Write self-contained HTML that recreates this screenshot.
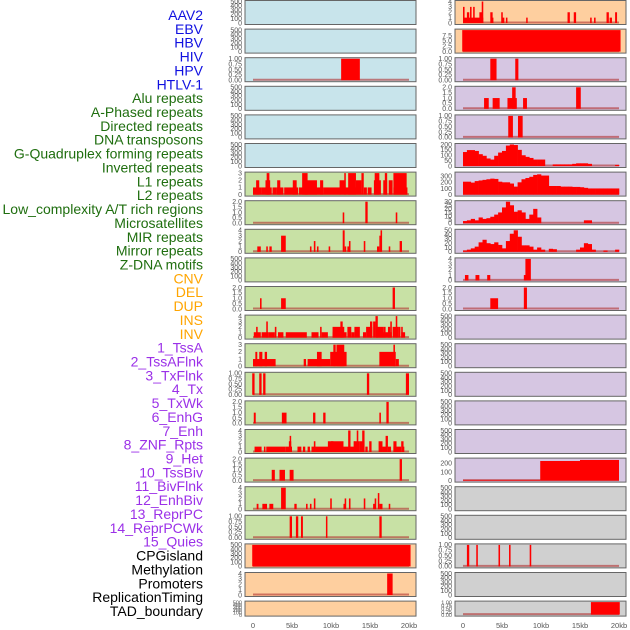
<!DOCTYPE html>
<html><head><meta charset="utf-8"><style>
body{margin:0;background:#fff;width:630px;height:630px;overflow:hidden}
svg{display:block}
</style></head><body>
<svg id="c" width="630" height="630" font-family="Liberation Sans, sans-serif"></svg>
<script>
// ---- labels ----
const labels=["AAV2","EBV","HBV","HIV","HPV","HTLV-1","Alu repeats","A-Phased repeats","Directed repeats","DNA transposons","G-Quadruplex forming repeats","Inverted repeats","L1 repeats","L2 repeats","Low_complexity A/T rich regions","Microsatellites","MIR repeats","Mirror repeats","Z-DNA motifs","CNV","DEL","DUP","INS","INV","1_TssA","2_TssAFlnk","3_TxFlnk","4_Tx","5_TxWk","6_EnhG","7_Enh","8_ZNF_Rpts","9_Het","10_TssBiv","11_BivFlnk","12_EnhBiv","13_ReprPC","14_ReprPCWk","15_Quies","CPGisland","Methylation","Promoters","ReplicationTiming","TAD_boundary"];
const labelGroups=[6,13,5,15,5];
const groupColors=["#1010e0","#1f6e0f","#ffa500","#9b30e8","#000000"];
// ---- x axis ----
const xTicks=[0,5,10,15,20];
const xTickLabels=["0","5kb","10kb","15kb","20kb"];
// ---- tick sets ----
const T500=[0,100,200,300,400,500], T1=[0,0.25,0.5,0.75,1], T2=[0,0.5,1,1.5,2], T3=[0,1,2,3], T4=[0,1,2,3,4];
const T10=[0,2.5,5,7.5], T200=[0,50,100,150,200], T300=[0,100,200,300], T30=[0,5,10,15,20,25,30], T50=[0,10,20,30,40,50], T250=[0,100,200];
// ---- left column bars [startKb,endKb,value] ----
const L_hiv=[[11.3,13.7,1]];
const L_l1=[[0,1.1,1],[0.4,0.8,2],[1.1,2.4,1],[1.6,2.2,2],[1.75,2.1,3],[2.5,3.0,1],[3.0,3.9,1],[3.1,3.5,2],[4.0,5.8,1],[5.1,5.6,2],[5.9,9.0,1],[6.6,8.2,2],[6.3,7.0,3],[8.6,9.0,2],[9.0,11.2,1],[11.1,11.8,2],[11.7,11.9,3],[11.8,13.2,1],[12.2,13.2,3],[13.2,13.9,2],[13.9,14.2,3],[14.2,14.6,1],[14.7,15.2,1],[15.5,16.4,2],[15.6,16.2,3],[16.7,17.2,2],[16.9,17.2,3],[17.4,17.9,2],[18.0,19.8,1],[18.0,19.7,3]];
const L_lowc=[[11.5,11.7,1],[14.4,14.7,2],[18.3,18.5,1]];
const L_mir=[[0.55,1.0,1],[1.7,1.9,1],[2.1,2.4,1],[3.6,4.2,3],[7.3,7.5,1],[7.8,8.0,2],[8.2,8.4,1],[9.7,9.9,1],[11.5,11.75,4],[11.75,11.95,1],[12.1,12.5,1],[12.3,12.5,2],[14.2,14.4,2],[15.9,16.2,1],[16.2,16.4,3],[16.35,16.55,4],[17.4,17.6,1],[18.8,19.1,2]];
const L_del=[[0.9,1.1,1],[3.6,4.2,1],[17.9,18.2,2]];
const L_ins=[[0.1,1.0,1],[0.4,0.6,2],[1.1,2.0,1],[1.7,1.9,3],[2.0,2.8,1],[2.8,3.0,2],[3.2,3.9,1],[4.2,6.9,1],[7.5,8.4,1],[8.6,8.8,2],[8.8,9.6,1],[10.2,12.0,1],[10.2,11.7,2],[11.2,11.5,3],[12.1,12.6,2],[12.6,13.0,1],[13.0,13.7,2],[14.1,14.5,1],[14.5,15.3,2],[15.0,15.3,3],[15.4,15.7,3],[15.7,16.0,4],[15.8,17.8,1],[15.8,16.7,2],[16.7,17.0,2],[17.3,17.6,2],[17.6,17.8,3],[17.9,18.6,2],[18.3,18.5,4],[18.6,18.9,2],[19.0,19.5,1],[19.0,19.2,2]];
const L_tssa=[[0,2.9,1],[0.3,0.55,2],[0.8,1.2,2],[1.5,1.8,2],[6.5,6.8,1],[7.0,9.9,1],[8.2,8.8,2],[9.9,12.0,2],[10.3,10.6,3],[10.7,11.7,3],[16.2,18.3,2],[18.0,18.2,3],[18.3,18.7,1]];
const L_txflnk=[[-0.1,0.2,1],[0.8,1.1,1],[1.3,1.6,1],[14.6,14.9,1],[19.6,20.0,1]];
const L_txwk=[[0.1,0.35,1],[3.7,4.3,1],[7.7,8.0,1],[9.0,9.3,1],[16.2,16.4,1],[17.1,17.4,2]];
const L_enh=[[0.2,1.1,1],[1.4,1.6,1],[1.7,4.2,1],[4.2,5.0,1],[4.6,4.9,2],[4.7,4.8,3],[5.7,6.2,1],[6.4,6.7,1],[7.0,7.3,1],[7.5,8.0,1],[7.8,8.0,2],[8.0,10.0,1],[9.6,10.3,2],[10.0,11.6,2],[11.6,12.4,1],[12.2,12.5,4],[12.4,13.0,1],[12.9,13.1,2],[13.0,13.6,2],[13.3,13.5,4],[13.6,14.3,2],[14.0,14.3,4],[14.4,14.7,1],[14.9,15.2,2],[16.1,16.6,2],[16.6,17.1,1],[17.0,17.3,3],[17.3,17.7,1],[18.0,19.0,1],[18.0,18.4,2],[19.0,19.3,2],[19.2,19.4,1]];
const L_het=[[2.4,2.8,1],[3.4,4.1,1],[4.7,5.2,1],[18.8,19.1,2]];
const L_bivflnk=[[0.47,0.7,1],[1.2,1.8,1],[2.1,2.6,1],[3.6,4.2,4],[5.3,5.6,1],[6.8,7.0,1],[7.3,7.5,1],[7.8,8.0,2],[9.9,10.1,2],[11.6,11.8,1],[11.75,11.95,2],[12.3,12.5,2],[14.2,14.4,2],[15.4,15.7,1],[15.6,15.8,2],[16.0,16.2,3],[16.2,16.6,1],[17.4,17.6,1]];
const L_reprpc=[[4.7,5.0,1],[5.5,5.8,1],[6.15,6.4,1],[9.35,9.5,1],[16.2,16.5,1]];
const L_cpg=[[-0.1,20.2,500]];
const L_prom=[[17.2,17.9,4]];
// ---- right column bars ----
const R_aav2=[[0,2.6,1],[0,0.2,3],[0.5,0.8,2],[0.9,1.1,3],[1.3,1.5,3],[2.1,2.5,2],[2.4,2.6,4],[3.5,3.8,2],[3.7,3.9,1],[4.9,5.1,2],[5.0,5.3,1],[5.5,5.7,1],[8.1,8.25,1],[13.4,13.7,2],[14.2,14.5,2],[16.3,16.5,1],[16.8,17.0,1],[18.4,18.7,2],[18.8,19.1,1],[19.5,19.75,2]];
const R_hbv=[[-0.1,20.2,10]];
const R_hpv=[[3.5,4.3,1],[6.7,7.1,1]];
const R_alu=[[2.7,3.3,1],[3.8,4.7,1],[5.7,6.9,1],[6.3,6.75,2],[7.7,8.2,1],[14.5,15.1,2]];
const R_directed=[[5.8,6.4,1],[7.05,7.65,1]];
const R_cnv=[[0.25,0.7,1],[1.6,2.1,1],[3.1,3.5,1],[7.8,8.1,1],[8.0,8.7,4]];
const R_dup=[[3.5,4.5,1],[7.8,8.2,2]];
const R_tssbiv=[[0,9.9,8],[9.9,15.0,228],[15.0,20.0,240]];
const R_cpg=[[0.5,0.8,1],[1.7,1.9,1],[4.55,4.75,1],[5.9,6.1,1],[8.55,8.75,1]];
const R_tad=[[16.4,20.1,1]];
// ---- right column profiles (0.5kb bins starting at 0) ----
const R_gquad=[130,148,148,140,110,95,70,60,95,125,140,190,200,195,150,100,85,75,60,60,60,0,0,15,15,15,15,15,20,25,25,25,20,0,0,0,0,0,0,10];
const R_l1=[210,210,195,220,230,240,250,260,255,210,200,200,180,130,200,250,270,290,320,330,310,310,140,140,140,130,130,130,125,125,120,110,100,100,100,100,100,100,100,100];
const R_lowc=[3,4,6,4,8,6,7,9,12,15,22,30,25,16,18,15,6,12,20,8,0,0,0,0,0,0,0,0,0,0,0,4,4,0,0,0,0,0,0,0];
const R_mir=[3,5,8,12,22,28,20,18,22,16,8,25,42,50,35,15,15,12,5,10,5,0,7,6,0,0,0,0,0,5,10,20,18,5,0,0,3,0,0,5];

const bgBlue="#c8e4eb",bgGreen="#c8e1a5",bgPeach="#fecf9f",bgLav="#d6c6e2",bgGray="#d0d0d0";
const left=[
 [bgBlue,T500,500,null],[bgBlue,T500,500,null],[bgBlue,T1,1,L_hiv],[bgBlue,T500,500,null],[bgBlue,T500,500,null],[bgBlue,T500,500,null],
 [bgGreen,T3,3,L_l1],[bgGreen,T2,2,L_lowc],[bgGreen,T4,4,L_mir],[bgGreen,T500,500,null],[bgGreen,T2,2,L_del],[bgGreen,T4,4,L_ins],
 [bgGreen,T3,3,L_tssa],[bgGreen,T1,1,L_txflnk],[bgGreen,T2,2,L_txwk],[bgGreen,T4,4,L_enh],[bgGreen,T2,2,L_het],[bgGreen,T4,4,L_bivflnk],
 [bgGreen,T1,1,L_reprpc],[bgPeach,T500,500,L_cpg],[bgPeach,T4,4,L_prom],[bgPeach,T500,500,null]];
const right=[
 [bgPeach,T4,4,R_aav2],[bgPeach,T10,10,R_hbv],[bgLav,T1,1,R_hpv],[bgLav,T2,2,R_alu],[bgLav,T1,1,R_directed],[bgLav,T200,200,R_gquad],
 [bgLav,T300,350,R_l1],[bgLav,T30,30,R_lowc],[bgLav,T50,50,R_mir],[bgLav,T4,4,R_cnv],[bgLav,T2,2,R_dup],[bgLav,T500,500,null],
 [bgLav,T500,500,null],[bgLav,T500,500,null],[bgLav,T500,500,null],[bgLav,T500,500,null],[bgLav,T250,250,R_tssbiv],[bgGray,T500,500,null],
 [bgGray,T500,500,null],[bgGray,T1,1,R_cpg],[bgGray,T500,500,null],[bgGray,T1,1,R_tad]];

const NS="http://www.w3.org/2000/svg";
const svg=document.getElementById('c');
function mk(tag,attrs,parent){const e=document.createElementNS(NS,tag);for(const k in attrs)e.setAttribute(k,attrs[k]);(parent||svg).appendChild(e);return e;}
const KB=7.8;
function fmt(t,set){if(set===T1)return t.toFixed(2);if(set===T2||set===T10)return t.toFixed(1);return String(t);}

// labels
let li=0;
labelGroups.forEach((n,g)=>{for(let k=0;k<n;k++){const t=mk('text',{x:203,y:15+li*13.86+5,'text-anchor':'end','font-size':'14',fill:groupColors[g]});


t.textContent=labels[li];li++;}});

function drawCol(panels,x0,xLeft,xRight,colName){
 panels.forEach((p,i)=>{
  const top=i*28.6, h=(i===21?16:25), bot=top+h-2, ytop=top+1.5;
  const g=mk('g',{});
  
  
  const [bg,ticks,max,data]=p;
  mk('rect',{x:xLeft,y:top+0.5,width:xRight-xLeft,height:h-1,fill:bg,stroke:'#666','stroke-width':1},g);
  const yv=v=>bot-(v/max)*(bot-ytop);
  ticks.forEach(t=>{const tx=mk('text',{x:xLeft-3,y:yv(t)+2.3,'text-anchor':'end','font-size':(i===21?'5.5':'7'),fill:'#555'},g);
   
   
   tx.textContent=fmt(t,ticks);});
  if(!data)return;
  mk('line',{x1:x0,x2:x0+20*KB,y1:bot-0.5,y2:bot-0.5,stroke:'#b03030','stroke-opacity':0.6,'stroke-width':2},g);
  if(typeof data[0]==='number'){
   data.forEach((v,b)=>{if(v<=0)return;const s=b*0.5;const r=mk('rect',{x:x0+s*KB,y:yv(v),width:0.5*KB+0.3,height:bot-yv(v),fill:'#ff0000'},g);
    
    });
  } else {
   data.forEach(d=>{const v=Math.min(d[2],max);const r=mk('rect',{x:x0+d[0]*KB,y:yv(v),width:Math.max((d[1]-d[0])*KB,1.5),height:bot-yv(v),fill:'#ff0000'},g);
    
    });
  }
 });
 xTicks.forEach((t,k)=>{const tx=mk('text',{x:x0+t*KB,y:628,'text-anchor':'middle','font-size':'7.5',fill:'#555'});
  
  
  tx.textContent=xTickLabels[k];});
}
drawCol(left,253,245,416,'left');
drawCol(right,463,455,626,'right');
</script>
</body></html>
